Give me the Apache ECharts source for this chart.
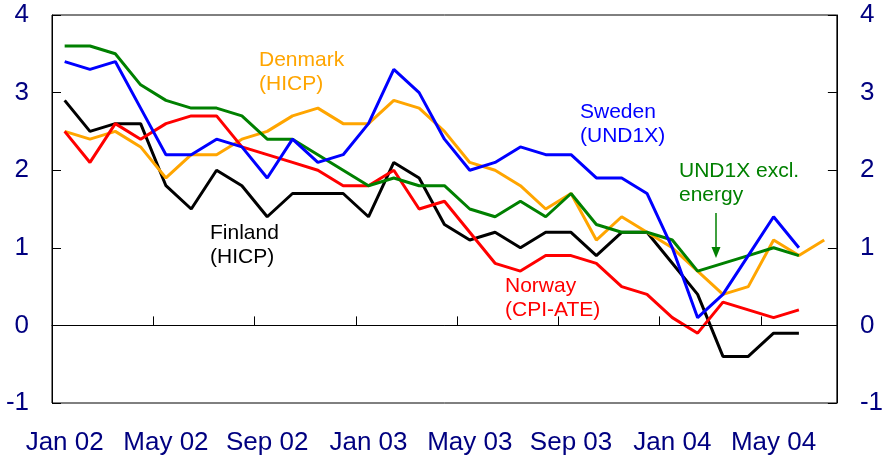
<!DOCTYPE html>
<html>
<head>
<meta charset="utf-8">
<script src="https://cdn.jsdelivr.net/npm/echarts@6/dist/echarts.min.js"></script>
<style>
html,body{margin:0;padding:0;background:#fff;}
#chart{width:886px;height:463px;}
</style>
</head>
<body>
<div id="chart"></div>
<script>
var months = ["Jan 02","Feb 02","Mar 02","Apr 02","May 02","Jun 02","Jul 02","Aug 02","Sep 02","Oct 02","Nov 02","Dec 02",
              "Jan 03","Feb 03","Mar 03","Apr 03","May 03","Jun 03","Jul 03","Aug 03","Sep 03","Oct 03","Nov 03","Dec 03",
              "Jan 04","Feb 04","Mar 04","Apr 04","May 04","Jun 04","Jul 04"];
var yTicks = [-1, 0, 1, 2, 3, 4];

var finland = [2.9,2.5,2.6,2.6,1.8,1.5,2.0,1.8,1.4,1.7,1.7,1.7,1.4,2.1,1.9,1.3,1.1,1.2,1.0,1.2,1.2,0.9,1.2,1.2,0.8,0.4,-0.4,-0.4,-0.1,-0.1,null];
var denmark = [2.5,2.4,2.5,2.3,1.9,2.2,2.2,2.4,2.5,2.7,2.8,2.6,2.6,2.9,2.8,2.5,2.1,2.0,1.8,1.5,1.7,1.1,1.4,1.2,1.0,0.7,0.4,0.5,1.1,0.9,1.1];
var norway  = [2.5,2.1,2.6,2.4,2.6,2.7,2.7,2.3,2.2,2.1,2.0,1.8,1.8,2.0,1.5,1.6,1.2,0.8,0.7,0.9,0.9,0.8,0.5,0.4,0.1,-0.1,0.3,0.2,0.1,0.2,null];
var swedenExEnergy = [3.6,3.6,3.5,3.1,2.9,2.8,2.8,2.7,2.4,2.4,2.2,2.0,1.8,1.9,1.8,1.8,1.5,1.4,1.6,1.4,1.7,1.3,1.2,1.2,1.1,0.7,0.8,0.9,1.0,0.9,null];
var sweden  = [3.4,3.3,3.4,2.8,2.2,2.2,2.4,2.3,1.9,2.4,2.1,2.2,2.6,3.3,3.0,2.4,2.0,2.1,2.3,2.2,2.2,1.9,1.9,1.7,1.0,0.1,0.4,0.9,1.4,1.0,null];

var FONT = '"Liberation Sans", Arial, sans-serif';
var NAVY = '#000080';
var ORANGE = '#FFA500', GREEN = '#008000', BLUE = '#0000FF', RED = '#FF0000';

var chart = echarts.init(document.getElementById('chart'), null, {renderer:'canvas'});

function yAxisCfg(pos, margin){
  return {
    type:'value', position:pos, min:yTicks[0], max:yTicks[yTicks.length-1], interval:1,
    axisLine:{show:true, lineStyle:{color:'#000', width:1}},
    axisTick:{show:true, inside:true, length:9, lineStyle:{color:'#000', width:1}},
    axisLabel:{show:true, color:NAVY, fontSize:26, fontFamily:FONT, margin:margin},
    splitLine:{show:false}
  };
}

function lineSeries(name, data, color, extra){
  var s = {
    name:name, type:'line', data:data, symbol:'none', showSymbol:false,
    lineStyle:{color:color, width:3}, itemStyle:{color:color},
    connectNulls:false, animation:false
  };
  if (extra) for (var k in extra) s[k] = extra[k];
  return s;
}

function txt(text, x, y, color){
  return {
    type:'text', left:x, top:y, z:100,
    style:{text:text, fill:color, font:'21px ' + FONT, lineHeight:24}
  };
}

var option = {
  animation:false,
  backgroundColor:'#fff',
  grid:{left:52, right:47, top:15, bottom:60, show:true, borderColor:'#000', borderWidth:1, backgroundColor:'transparent'},
  xAxis:{
    type:'category', data:months, boundaryGap:true,
    axisLine:{show:true, lineStyle:{color:'#000', width:1}},
    axisTick:{show:true, inside:true, length:9, interval:3, lineStyle:{color:'#000', width:1}},
    axisLabel:{show:true, interval:3, color:NAVY, fontSize:26, fontFamily:FONT, margin:27},
    splitLine:{show:false}
  },
  yAxis:[yAxisCfg('left', 23), yAxisCfg('right', 23)],
  series:[
    lineSeries('Finland (HICP)', finland, '#000', {
      markLine:{silent:true, symbol:'none', label:{show:false},
        lineStyle:{color:'#000', width:1, type:'solid'}, data:[{yAxis:0}]}
    }),
    lineSeries('Denmark (HICP)', denmark, ORANGE),
    lineSeries('Norway (CPI-ATE)', norway, RED),
    lineSeries('UND1X excl. energy', swedenExEnergy, GREEN),
    lineSeries('Sweden (UND1X)', sweden, BLUE)
  ],
  graphic:[
    txt('Denmark\n(HICP)', 259, 48, ORANGE),
    txt('Sweden\n(UND1X)', 580, 100, BLUE),
    txt('UND1X excl.\nenergy', 679, 159, GREEN),
    txt('Finland\n(HICP)', 210, 221, '#000'),
    txt('Norway\n(CPI-ATE)', 505, 274, RED),
    {type:'line', z:100, shape:{x1:716, y1:213, x2:716, y2:250}, style:{stroke:GREEN, lineWidth:1.5}},
    {type:'polygon', z:100, shape:{points:[[711.5,247],[720.5,247],[716,258]]}, style:{fill:GREEN}}
  ]
};
chart.setOption(option);
</script>
</body>
</html>
